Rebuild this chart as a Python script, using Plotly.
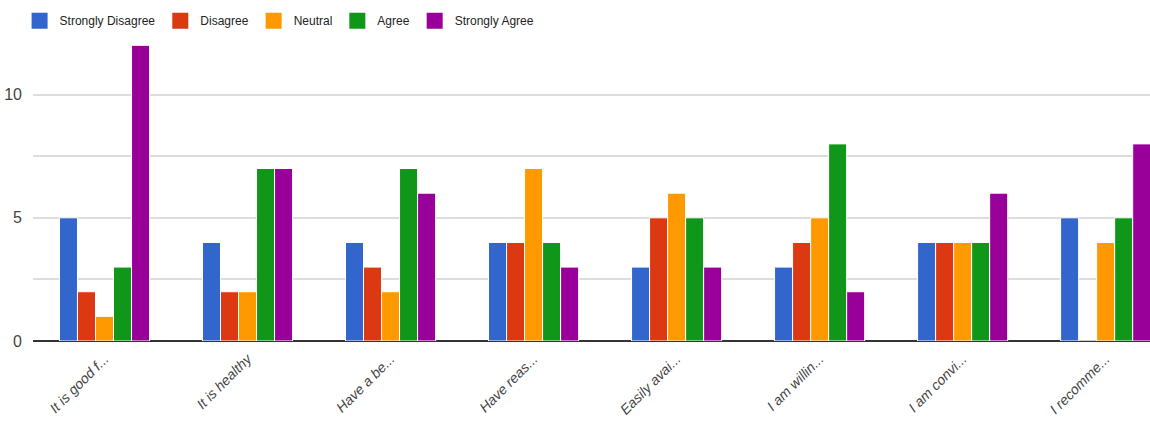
import plotly.graph_objects as go

categories = ["It is good f...", "It is healthy", "Have a be...", "Have reas...",
              "Easily avai...", "I am willin...", "I am convi...", "I recomme..."]
series_names = ["Strongly Disagree", "Disagree", "Neutral", "Agree", "Strongly Agree"]
strongly_disagree = [5, 4, 4, 4, 3, 3, 4, 5]
disagree = [2, 2, 3, 4, 5, 4, 4, 0]
neutral = [1, 2, 2, 7, 6, 5, 4, 4]
agree = [3, 7, 7, 4, 5, 8, 4, 5]
strongly_agree = [12, 7, 6, 3, 3, 2, 6, 8]
colors = ["#3366cc", "#dc3912", "#ff9900", "#109618", "#990099"]
y_tickvals = [0, 2.5, 5, 7.5, 10, 12.5]
y_ticktext = ["0", "", "5", "", "10", ""]

font_family = "Liberation Sans Narrow, Liberation Sans, Arial, sans-serif"

fig = go.Figure()
for name, vals, col in zip(series_names,
                           [strongly_disagree, disagree, neutral, agree, strongly_agree],
                           colors):
    fig.add_trace(go.Bar(name=name, x=categories, y=vals, showlegend=False,
                         marker=dict(color=col, line=dict(color="white", width=1))))
# legend entries with square swatches
for name, col in zip(series_names, colors):
    fig.add_trace(go.Scatter(name=name, x=[None], y=[None], mode="markers",
                             marker=dict(symbol="square", size=16, color=col),
                             showlegend=True))

fig.update_layout(
    width=1150, height=425,
    margin=dict(l=33, r=0, t=33, b=84),
    plot_bgcolor="white", paper_bgcolor="white",
    barmode="group", bargap=0.37, bargroupgap=0.0,
    font=dict(family=font_family, size=13, color="#222222"),
    legend=dict(orientation="h", x=-0.012, xanchor="left", y=1.04, yanchor="middle",
                font=dict(family=font_family, size=12, color="#222222"),
                itemwidth=30, traceorder="normal"),
    xaxis=dict(range=[-0.5, 7.31], tickangle=-45, showgrid=False,
               tickfont=dict(family=font_family, size=14, color="#444444", style="italic"),
               showline=False, ticks="", ticklabelstandoff=6),
    yaxis=dict(range=[0, 12.5], tickvals=y_tickvals, ticktext=y_ticktext,
               gridcolor="#dddddd", gridwidth=1.5, zeroline=True, zerolinecolor="#333333",
               zerolinewidth=2, showline=False, ticks="", automargin=False,
               ticklabelstandoff=10,
               tickfont=dict(family=font_family, size=16, color="#444444")),
)
fig.write_html("out.html")
